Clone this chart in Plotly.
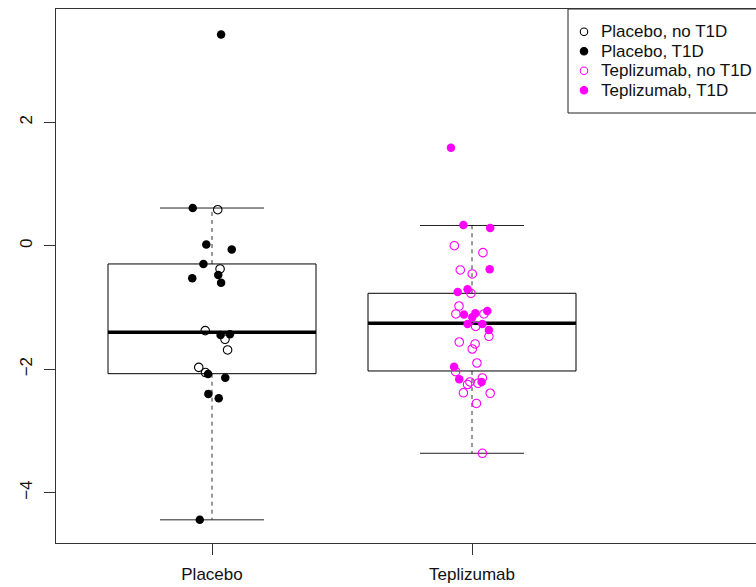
import plotly.graph_objects as go

# ---- data ----
groups = ["Placebo", "Teplizumab"]
group_pos = [1, 2]

# box statistics (lower whisker, Q1, median, Q3, upper whisker)
box_lo = [-4.44, -3.362]
box_q1 = [-2.073, -2.029]
box_med = [-1.403, -1.257]
box_q3 = [-0.296, -0.771]
box_hi = [0.61, 0.327]

# jittered points
plc_t1d_x = [1.035, 0.926, 0.978, 1.076, 0.967, 1.024, 0.924, 1.035, 1.033, 1.069,
             0.985, 1.051, 0.986, 1.026, 0.953]
plc_t1d_y = [3.42, 0.61, 0.02, -0.06, -0.296, -0.475, -0.528, -0.599, -1.446, -1.435,
             -2.078, -2.14, -2.40, -2.47, -4.44]
plc_no_x = [1.022, 1.031, 0.974, 1.050, 1.060, 0.949, 0.975]
plc_no_y = [0.583, -0.377, -1.376, -1.516, -1.689, -1.97, -2.055]

tep_t1d_x = [1.919, 1.967, 2.070, 2.068, 1.945, 1.983, 1.969, 2.013, 2.059, 2.001,
             1.983, 2.040, 2.065, 1.931, 1.951, 2.037]
tep_t1d_y = [1.587, 0.335, 0.287, -0.383, -0.75, -0.707, -1.114, -1.095, -1.057, -1.16,
             -1.268, -1.268, -1.365, -1.96, -2.164, -2.207]
tep_no_x = [1.932, 2.042, 1.955, 2.001, 1.996, 1.950, 1.938, 2.046, 2.014, 2.065,
            1.951, 2.012, 2.001, 2.019, 1.937, 2.040, 1.992, 1.983, 2.023, 1.967,
            2.070, 2.017, 2.040]
tep_no_y = [0.0, -0.113, -0.393, -0.458, -0.771, -0.977, -1.106, -1.106, -1.308, -1.467,
            -1.56, -1.592, -1.673, -1.9, -2.04, -2.142, -2.207, -2.248, -2.228, -2.382,
            -2.39, -2.555, -3.362]

legend_labels = ["Placebo, no T1D", "Placebo, T1D", "Teplizumab, no T1D", "Teplizumab, T1D"]
legend_symbols = ["circle-open", "circle", "circle-open", "circle"]
legend_colors = ["black", "black", "#FF00FF", "#FF00FF"]

BOXHALF = 0.4
CAPHALF = 0.2
FONT = "Liberation Sans, Arial, sans-serif"
FS = 17
W, H = 756, 587
ML, MR, MT, MB = 56, 0, 9, 44
PW, PH = W - ML - MR, H - MT - MB

fig = go.Figure()

for i, p in enumerate(group_pos):
    fig.add_trace(go.Scatter(x=[p, p, None, p, p], y=[box_q3[i], box_hi[i], None, box_q1[i], box_lo[i]],
                             mode="lines", line=dict(color="#333333", width=1, dash="4px,4px"),
                             showlegend=False, hoverinfo="skip"))
    fig.add_trace(go.Scatter(x=[p - CAPHALF, p + CAPHALF, None, p - CAPHALF, p + CAPHALF],
                             y=[box_hi[i], box_hi[i], None, box_lo[i], box_lo[i]],
                             mode="lines", line=dict(color="#222222", width=1),
                             showlegend=False, hoverinfo="skip"))
    fig.add_trace(go.Scatter(x=[p - BOXHALF, p + BOXHALF, p + BOXHALF, p - BOXHALF, p - BOXHALF],
                             y=[box_q1[i], box_q1[i], box_q3[i], box_q3[i], box_q1[i]],
                             mode="lines", line=dict(color="black", width=1),
                             showlegend=False, hoverinfo="skip"))
    fig.add_trace(go.Scatter(x=[p - BOXHALF, p + BOXHALF], y=[box_med[i], box_med[i]],
                             mode="lines", line=dict(color="black", width=3.5),
                             showlegend=False, hoverinfo="skip"))

MS = 8.5
fig.add_trace(go.Scatter(x=plc_no_x, y=plc_no_y, mode="markers", showlegend=False,
                         marker=dict(symbol="circle-open", size=MS, color="black", line=dict(width=1.1))))
fig.add_trace(go.Scatter(x=plc_t1d_x, y=plc_t1d_y, mode="markers", showlegend=False,
                         marker=dict(symbol="circle", size=MS, color="black")))
fig.add_trace(go.Scatter(x=tep_no_x, y=tep_no_y, mode="markers", showlegend=False,
                         marker=dict(symbol="circle-open", size=MS, color="#FF00FF", line=dict(width=1.1))))
fig.add_trace(go.Scatter(x=tep_t1d_x, y=tep_t1d_y, mode="markers", showlegend=False,
                         marker=dict(symbol="circle", size=MS, color="#FF00FF")))

# ---- manual legend (pixel overlay axes) ----
LEG_LEFT, LEG_BOTTOM = 568, 113
ROW0, ROWSTEP = 31.7, 19.5
SYM_X, TXT_X = 584, 601
rows = [ROW0 + k * ROWSTEP for k in range(len(legend_labels))]
fig.add_shape(type="rect", xref="paper", yref="paper",
              x0=(LEG_LEFT - ML) / PW, x1=1.05, y0=1 - (LEG_BOTTOM - MT) / PH, y1=1,
              line=dict(color="#222222", width=1), fillcolor="white", layer="below")
for k, lab in enumerate(legend_labels):
    fig.add_trace(go.Scatter(x=[SYM_X - ML], y=[rows[k] - MT], xaxis="x2", yaxis="y2",
                             mode="markers", showlegend=False, hoverinfo="skip",
                             marker=dict(symbol=legend_symbols[k], size=7.5, color=legend_colors[k],
                                         line=dict(width=1.1, color=legend_colors[k]))))
    fig.add_annotation(xref="paper", yref="paper", x=(TXT_X - ML) / PW, y=1 - (rows[k] - MT) / PH,
                       xanchor="left", yanchor="middle", text=lab, showarrow=False,
                       xshift=-2, font=dict(family=FONT, size=FS, color="#111111"))

fig.update_layout(
    width=W, height=H,
    margin=dict(l=ML, r=MR, t=MT, b=MB, autoexpand=False),
    plot_bgcolor="white", paper_bgcolor="white",
    font=dict(family=FONT, size=FS, color="#111111"),
    showlegend=False,
    xaxis=dict(range=[0.4, 0.4 + PW / 260], tickvals=group_pos, ticktext=groups,
               showgrid=False, zeroline=False, showline=True, linecolor="#333333", linewidth=1,
               mirror=True, ticks="outside", ticklen=11, tickcolor="#333333",
               ticklabelstandoff=5),
    yaxis=dict(range=[-4.815, 3.833], tickvals=[-4, -2, 0, 2], ticktext=["\u22124", "\u22122", "0", "2"],
               tickangle=-90,
               showgrid=False, zeroline=False, showline=True, linecolor="#333333", linewidth=1,
               mirror=False, ticks="outside", ticklen=11, tickcolor="#333333",
               ticklabelstandoff=5),
    xaxis2=dict(overlaying="x", range=[0, PW], visible=False, fixedrange=True),
    yaxis2=dict(overlaying="y", range=[PH, 0], visible=False, fixedrange=True),
)

fig.write_html("out.html")
